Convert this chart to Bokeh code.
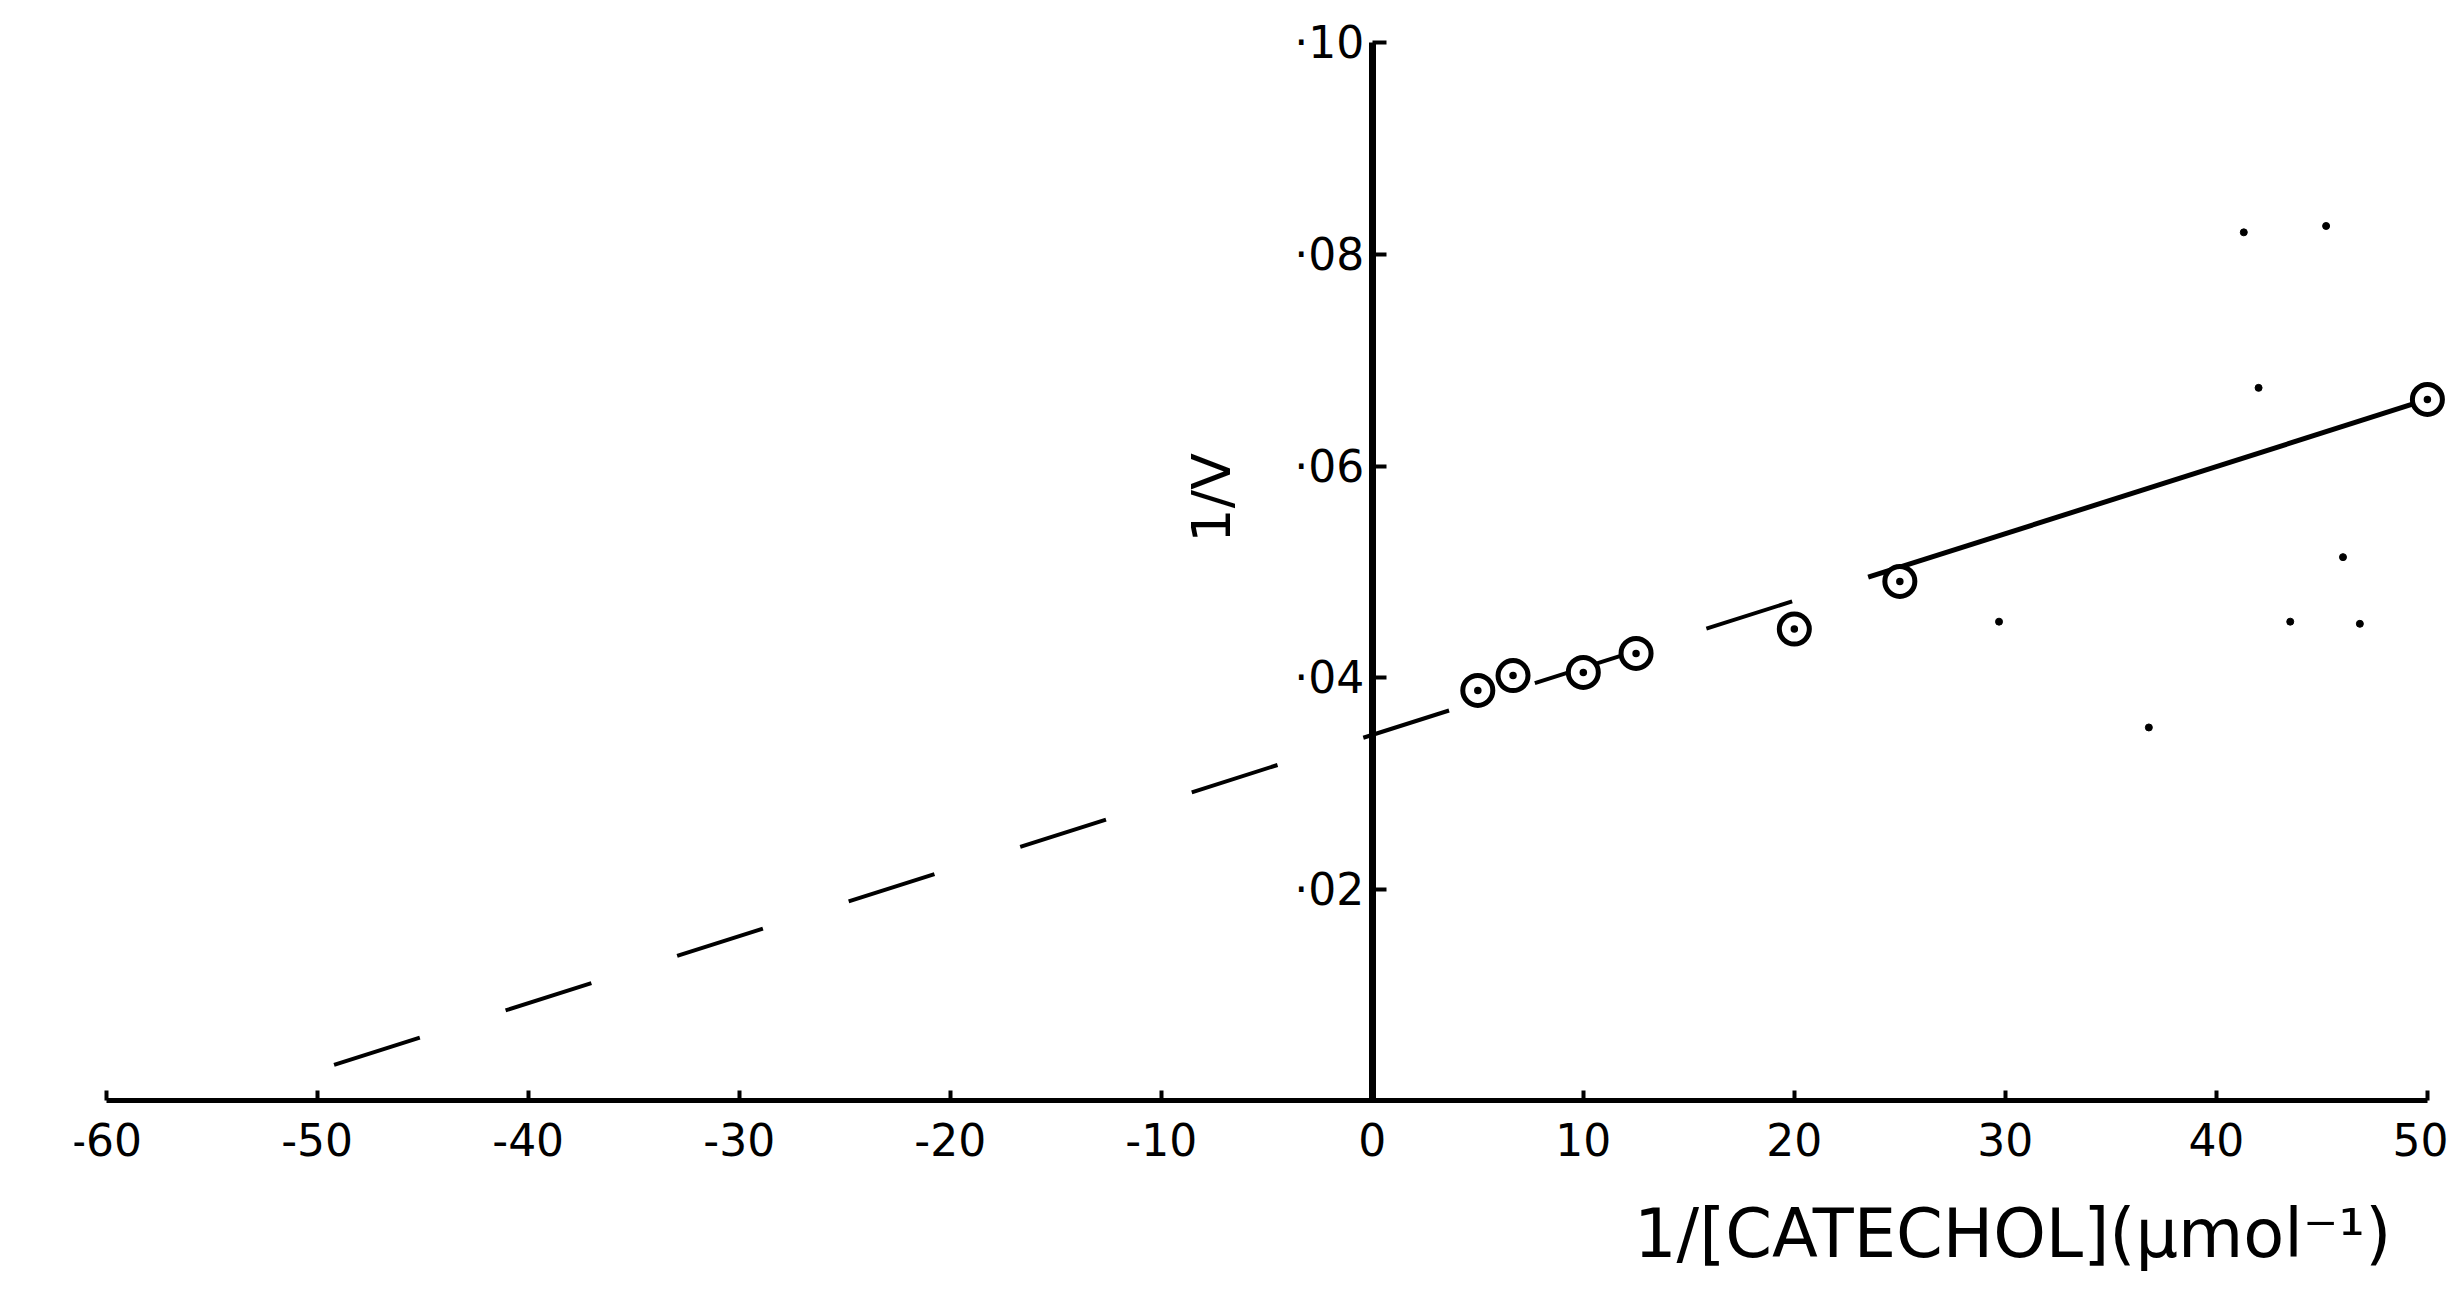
import math
from bokeh.plotting import figure
from bokeh.models import LinearAxis, FixedTicker, Range1d, Label, CustomJSTickFormatter
from bokeh.embed import file_html
from bokeh.resources import INLINE

# Lineweaver-Burk data: 1/[catechol] (µmol^-1) vs 1/v
inv_catechol = [5, 6.67, 10, 12.5, 20, 25, 50]
inv_velocity = [0.0388, 0.0402, 0.0405, 0.0423, 0.0446, 0.0491, 0.0663]

# fitted line (dashed extrapolation, then solid)
fit_x = [-49.2, 23.5, 50]
fit_y = [0.0034, 0.0495, 0.0663]

# stray specks of the scanned figure
speck_x = [41.3, 45.2, 42.0, 46.0, 43.5, 46.8, 29.7, 36.8]
speck_y = [0.0821, 0.0827, 0.0674, 0.0514, 0.0453, 0.0451, 0.0453, 0.0353]

x_ticks = [-60, -50, -40, -30, -20, -10, 0, 10, 20, 30, 40, 50]
x_tick_labels = ["-60", "-50", "-40", "-30", "-20", "-10", "0", "10", "20", "30", "40", "50"]
y_ticks = [0.02, 0.04, 0.06, 0.08, 0.10]
y_tick_labels = ["·02", "·04", "·06", "·08", "·10"]

x_title = "1/[CATECHOL](µmol⁻¹)"
y_title = "1/V"

FONT = "DejaVu Sans"

p = figure(frame_width=2374, frame_height=1259,
           x_range=Range1d(-61.5, 51.0), y_range=Range1d(-0.0165, 0.1025),
           x_axis_type=None, y_axis_type=None,
           output_backend="svg", toolbar_location=None,
           min_border_left=74, min_border_right=0, min_border_top=16, min_border_bottom=0)
p.outline_line_color = None
p.background_fill_color = "white"

fmt_code = """
const i = tvals.findIndex(t => Math.abs(t - tick) < 1e-9);
return i >= 0 ? tlabels[i] : '';
"""

xaxis = LinearAxis(fixed_location=0, bounds=(-60, 50),
                   ticker=FixedTicker(ticks=x_ticks, minor_ticks=[]),
                   formatter=CustomJSTickFormatter(args=dict(tvals=x_ticks, tlabels=x_tick_labels), code=fmt_code))
xaxis.axis_line_width = 5
xaxis.axis_line_color = "black"
xaxis.major_tick_in = 10
xaxis.major_tick_out = 0
xaxis.major_tick_line_width = 4
xaxis.minor_tick_line_color = None
xaxis.major_label_standoff = 22
xaxis.major_label_text_font = FONT
xaxis.major_label_text_font_size = "44px"
xaxis.major_label_text_color = "black"
p.add_layout(xaxis, "below")

yaxis = LinearAxis(fixed_location=0, bounds=(0, 0.10),
                   ticker=FixedTicker(ticks=y_ticks, minor_ticks=[]),
                   formatter=CustomJSTickFormatter(args=dict(tvals=y_ticks, tlabels=y_tick_labels), code=fmt_code))
yaxis.axis_line_width = 7
yaxis.axis_line_color = "black"
yaxis.major_tick_in = 14
yaxis.major_tick_out = 0
yaxis.major_tick_line_width = 4
yaxis.minor_tick_line_color = None
yaxis.major_label_standoff = 8
yaxis.major_label_text_font = FONT
yaxis.major_label_text_font_size = "44px"
yaxis.major_label_text_color = "black"
p.add_layout(yaxis, "left")

# extrapolated (dashed) and fitted (solid) line
p.line(fit_x[:2], fit_y[:2], line_color="black", line_width=4, line_dash="90 90")
p.line(fit_x[1:], fit_y[1:], line_color="black", line_width=5)

# data points
p.scatter(inv_catechol, inv_velocity, marker="circle_dot", size=30,
          line_color="black", line_width=5, fill_color="white")

# specks
p.scatter(speck_x, speck_y, marker="circle", size=7, color="black")

p.add_layout(Label(x=12.4, y=-0.0126, text=x_title, text_font=FONT, text_font_size="67px",
                   text_align="left", text_baseline="middle", text_color="black"))
p.add_layout(Label(x=-7.6, y=0.0570, text=y_title, angle=math.pi / 2, text_font=FONT,
                   text_font_size="54px", text_align="center", text_baseline="middle",
                   text_color="black"))

open("out.html", "w").write(file_html(p, INLINE))
